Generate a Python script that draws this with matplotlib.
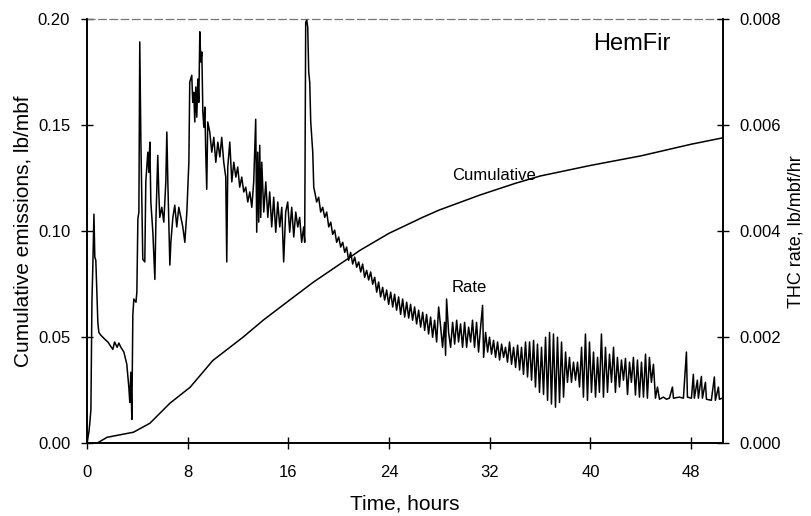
import matplotlib
matplotlib.use('Agg')
import matplotlib.pyplot as plt
import numpy as np

plt.rcParams['font.family'] = ['Liberation Sans', 'DejaVu Sans']

# cumulative emissions, lb/mbf (left axis)
cum_hours = [0.0, 0.8, 1.6, 3.7, 5.0, 6.6, 8.2, 10.0, 12.4, 14.0, 16.1, 18.0,
             20.9, 21.7, 24.0, 26.7, 28.0, 31.2, 34.0, 36.0, 38.0, 40.0, 44.0, 48.0, 50.5]
cum_vals = [0.0, 0.0, 0.0028, 0.0052, 0.0094, 0.0189, 0.0264, 0.039, 0.050, 0.058,
            0.0675, 0.076, 0.0877, 0.091, 0.099, 0.1066, 0.110, 0.117, 0.1225,
            0.126, 0.1285, 0.131, 0.1355, 0.141, 0.144]

# THC rate, lb/mbf/hr (right axis), values in 1e-3
rate_hours = [
    0.0, 0.16, 0.24, 0.32, 0.40, 0.48, 0.56, 0.63, 0.71, 0.79, 0.87, 0.95, 1.1, 1.43,
    1.67, 1.83, 2.06, 2.2, 2.4, 2.54, 2.7, 2.94, 3.17, 3.33, 3.41, 3.49, 3.57, 3.65,
    3.73, 3.9, 3.97, 4.05, 4.13, 4.2, 4.29, 4.37, 4.44, 4.6, 4.68, 4.84, 4.92, 5.0,
    5.08, 5.24, 5.4, 5.48, 5.63, 5.71, 5.79, 5.95, 6.11, 6.27, 6.35, 6.43, 6.59, 6.67,
    6.83, 6.98, 7.14, 7.3, 7.46, 7.62, 7.78, 7.94, 8.1, 8.17, 8.33, 8.41, 8.49, 8.57,
    8.65, 8.73, 8.81, 8.89, 8.97, 9.05, 9.13, 9.21, 9.29, 9.37, 9.44, 9.52, 9.6, 9.76,
    9.92, 10.08, 10.24, 10.4, 10.56, 10.71, 10.87, 11.03, 11.11, 11.19, 11.35, 11.51,
    11.67, 11.83, 11.98, 12.14, 12.3, 12.46, 12.62, 12.78, 12.94, 13.1, 13.25, 13.41,
    13.49, 13.57, 13.65, 13.73, 13.81, 13.89, 14.05, 14.21, 14.37, 14.52, 14.68, 14.84,
    15.0, 15.16, 15.32, 15.48, 15.63, 15.79, 15.95, 16.11, 16.27, 16.43, 16.59, 16.75,
    16.9, 17.06, 17.22, 17.3, 17.38, 17.46, 17.54, 17.62, 17.7, 17.78, 17.86, 17.94,
    18.02, 18.1, 18.25, 18.41, 18.57, 18.73, 18.89, 19.05, 19.21, 19.37, 19.52, 19.68,
    19.84, 20.0, 20.16, 20.32, 20.48, 20.63, 20.79, 20.95, 21.11, 21.27, 21.43, 21.59,
    21.75, 21.9, 22.06, 22.22, 22.38, 22.54, 22.7, 22.86, 23.02, 23.17, 23.33, 23.49,
    23.65, 23.81, 23.97, 24.13, 24.29, 24.44, 24.6, 24.76, 24.92, 25.08, 25.24, 25.4,
    25.56, 25.71, 25.87, 26.03, 26.19, 26.35, 26.51, 26.67, 26.83, 26.98, 27.14, 27.3,
    27.46, 27.62, 27.78, 27.94, 28.1, 28.25, 28.41, 28.49, 28.57, 28.73, 28.89, 29.05,
    29.21, 29.37, 29.52, 29.68, 29.84, 30.0, 30.16, 30.32, 30.48, 30.63, 30.79, 30.95,
    31.11, 31.27, 31.43, 31.51, 31.67, 31.83, 31.98, 32.14, 32.3, 32.46, 32.62, 32.78,
    32.94, 33.1, 33.25, 33.41, 33.57, 33.73, 33.89, 34.05, 34.21, 34.37, 34.52, 34.68,
    34.84, 35.0, 35.16, 35.32, 35.48, 35.63, 35.79, 35.95, 36.11, 36.27, 36.43, 36.59,
    36.75, 36.9, 37.06, 37.22, 37.38, 37.54, 37.7, 37.86, 38.02, 38.17, 38.33, 38.49,
    38.65, 38.81, 38.97, 39.13, 39.29, 39.44, 39.6, 39.76, 39.92, 40.08, 40.24, 40.4,
    40.56, 40.71, 40.87, 41.03, 41.19, 41.35, 41.51, 41.67, 41.83, 41.98, 42.14, 42.3,
    42.46, 42.62, 42.78, 42.94, 43.1, 43.25, 43.41, 43.57, 43.73, 43.89, 44.05, 44.21,
    44.37, 44.52, 44.68, 44.84, 45.0, 45.16, 45.32, 45.48, 45.79, 46.03, 46.27, 46.51,
    46.59, 47.06, 47.38, 47.62, 47.7, 48.02, 48.17, 48.25, 48.49, 48.57, 48.81, 48.89,
    49.13, 49.21, 49.6, 49.84, 49.92, 50.16, 50.24, 50.48]
rate_vals = [
    0.0, 0.21, 0.40, 0.64, 2.66, 3.42, 4.32, 3.51, 3.45, 2.85, 2.28, 2.09, 2.04, 1.96,
    1.91, 1.85, 1.77, 1.91, 1.81, 1.89, 1.81, 1.72, 1.49, 1.06, 0.77, 1.34, 0.45, 2.42,
    2.72, 2.66, 2.85, 4.23, 4.36, 7.57, 5.68, 4.55, 3.47, 3.42, 4.93, 5.49, 5.11, 5.68,
    4.55, 3.98, 3.09, 4.17, 5.43, 4.74, 4.26, 4.45, 4.17, 4.93, 5.87, 4.93, 3.36, 3.79,
    4.26, 4.49, 4.08, 4.45, 4.26, 4.08, 3.79, 4.36, 5.30, 6.81, 6.94, 6.43, 6.62, 6.06,
    6.72, 6.15, 6.87, 6.43, 7.76, 7.19, 7.38, 6.25, 5.96, 6.34, 5.49, 4.79, 6.06, 5.87,
    5.49, 5.77, 5.30, 5.68, 5.40, 5.77, 5.30, 5.02, 3.42, 5.21, 5.68, 4.93,
    5.30, 5.02, 5.21, 4.83, 5.02, 4.74, 4.83, 4.55, 4.74, 4.45, 4.93, 6.11,
    3.98, 5.49, 4.17, 5.62, 4.26, 5.30, 4.36, 4.93, 4.26, 4.74, 4.08, 4.64,
    3.98, 4.55, 4.08, 4.45, 3.42, 4.36, 4.55, 3.98, 4.45, 3.89, 4.36, 4.08,
    4.26, 3.79, 4.08, 3.79, 7.94, 7.98, 7.85, 7.0, 6.81, 6.06, 5.77, 5.49,
    4.83, 4.74, 4.55, 4.64, 4.36, 4.45, 4.26, 4.36, 4.08, 4.17, 3.94, 4.02,
    3.79, 3.89, 3.70, 3.79, 3.60, 3.70, 3.45, 3.60, 3.38, 3.51, 3.32, 3.42,
    3.23, 3.38, 3.13, 3.26, 3.08, 3.23, 3.0, 3.13, 2.85, 3.04, 2.76, 2.94,
    2.70, 2.89, 2.62, 2.85, 2.57, 2.81, 2.51, 2.76, 2.43, 2.72, 2.38, 2.66,
    2.36, 2.62, 2.32, 2.57, 2.25, 2.51, 2.19, 2.47, 2.13, 2.43, 2.06, 2.38,
    2.0, 2.32, 1.91, 2.57, 2.19, 1.81, 2.28, 1.66, 2.72, 2.09, 1.81, 2.28,
    1.87, 2.32, 1.91, 2.25, 1.81, 2.28, 1.81, 2.19, 1.91, 2.32, 1.81, 2.28,
    1.72, 2.19, 2.60, 1.62, 2.09, 1.72, 2.0, 1.68, 1.94, 1.62, 1.91, 1.57,
    1.87, 1.62, 1.81, 1.53, 1.91, 1.49, 1.81, 1.43, 1.85, 1.38, 1.81, 1.30,
    1.91, 1.25, 1.91, 1.19, 1.94, 1.06, 1.87, 0.96, 1.81, 0.92, 2.0, 0.81,
    2.09, 0.74, 2.06, 0.68, 2.0, 0.77, 1.91, 0.87, 1.72, 1.15, 1.62, 1.15,
    1.53, 1.19, 1.53, 1.06, 1.81, 0.87, 2.06, 0.81, 1.91, 0.96, 1.72, 0.87,
    1.62, 0.96, 2.06, 0.87, 1.81, 0.96, 1.68, 1.15, 1.81, 0.96, 1.62, 1.06,
    1.57, 1.19, 1.60, 0.92, 1.53, 1.15, 1.62, 0.91, 1.57, 0.87, 1.53, 0.87,
    1.68, 0.85, 1.62, 1.15, 1.49, 0.85, 1.06, 0.83, 0.87, 0.83, 0.85, 1.06,
    0.85, 0.87, 0.85, 1.72, 0.87, 0.85, 1.30, 0.85, 1.19, 0.85, 1.26, 0.85,
    1.15, 0.83, 0.81, 1.25, 0.81, 1.06, 0.83, 0.85]

x_ticks = [0, 8, 16, 24, 32, 40, 48]
left_ticks = [0.0, 0.05, 0.10, 0.15, 0.20]
right_ticks = [0.0, 0.002, 0.004, 0.006, 0.008]

fig = plt.figure(figsize=(8.12, 5.16), dpi=100)
ax = fig.add_axes([0.107, 0.141, 0.783, 0.822])
ax2 = ax.twinx()

ax.plot(cum_hours, cum_vals, color='black', lw=1.1)
ax2.plot(rate_hours, np.array(rate_vals) * 1e-3, color='black', lw=1.1)

ax.set_xlim(0, 50.5)
ax.set_ylim(0, 0.20)
ax2.set_ylim(0, 0.008)

ax.set_xticks(x_ticks)
ax.set_yticks(left_ticks)
ax.set_yticklabels(['%.2f' % v for v in left_ticks])
ax2.set_yticks(right_ticks)
ax2.set_yticklabels(['%.3f' % v for v in right_ticks])

for a in (ax, ax2):
    a.tick_params(direction='inout', length=8, width=1.0, labelsize=12, colors='black')
    for s in a.spines.values():
        s.set_linewidth(1.2)
ax.tick_params(axis='y', pad=8)
ax.tick_params(axis='x', pad=12)
ax2.tick_params(axis='y', pad=8)
ax.spines['top'].set_linestyle((0, (6, 3)))
ax.spines['top'].set_color('#777777')
ax.spines['top'].set_linewidth(0.9)
ax2.spines['top'].set_visible(False)

ax.set_xlabel('Time, hours', fontsize=15, labelpad=10)
ax.set_ylabel('Cumulative emissions, lb/mbf', fontsize=15, labelpad=4)
ax2.set_ylabel('THC rate, lb/mbf/hr', fontsize=13, labelpad=5)

ax.text(0.796, 0.941, 'HemFir', transform=ax.transAxes, fontsize=17, ha='left', va='center')
ax.text(29.0, 0.1264, 'Cumulative', fontsize=12, ha='left', va='center')
ax.text(29.0, 0.0736, 'Rate', fontsize=12, ha='left', va='center')

fig.savefig('out.png', dpi=100)
